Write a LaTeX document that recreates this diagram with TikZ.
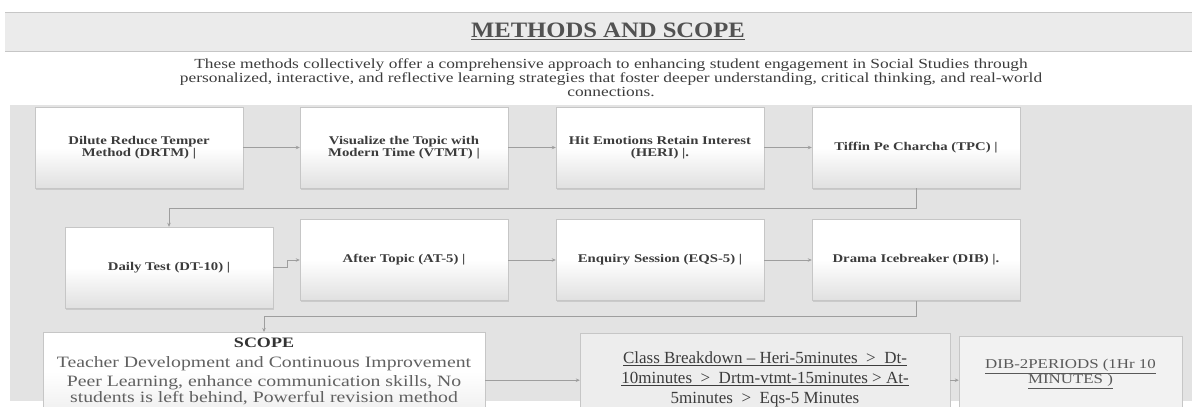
\documentclass[tikz,border=0pt]{standalone}
\usepackage{fontspec}
\setmainfont{Liberation Serif}
\newfontfamily\wideserif[FakeStretch=1.25]{Liberation Serif}
\newfontfamily\headserif[FakeStretch=1.12]{Liberation Serif}
\usetikzlibrary{arrows.meta,shadows}
\definecolor{bandc}{HTML}{EBEBEB}
\definecolor{panelc}{HTML}{E3E3E3}
\definecolor{linec}{HTML}{C6C6C6}
\definecolor{arrc}{HTML}{9E9E9E}
\definecolor{txtc}{HTML}{3C3C3C}
\definecolor{shadec}{HTML}{E0E0E0}
\tikzset{
  conn/.style={-{Stealth[length=4pt,width=3.5pt]},arrc,line width=0.7pt},
  mbox/.style={draw=linec,top color=white,bottom color=shadec,middle color=white,minimum width=208pt,minimum height=81pt,inner sep=2pt,align=center,text=txtc,font=\wideserif\bfseries\fontsize{11.8}{11.7}\selectfont,drop shadow={shadow xshift=0.8pt,shadow yshift=-1.5pt,opacity=0.25}},
  lowbox/.style={draw=linec,anchor=north,align=center,drop shadow={shadow xshift=0.8pt,shadow yshift=-1.5pt,opacity=0.2}}
}

\begin{document}
\begin{tikzpicture}[x=1pt,y=-1pt]
\useasboundingbox (0,0) rectangle (1192,407);
\clip (0,0) rectangle (1192,407);
% heading
\fill[bandc] (5,12) rectangle (1192,51);
\draw[linec] (5,12) -- (1192,12) (5,51) -- (1192,51);
\node[font=\headserif\bfseries\fontsize{22}{22}\selectfont,text=black!68] (title) at (608,31) {\underline{METHODS AND SCOPE}};
\node[align=center,font=\wideserif\fontsize{13.9}{14}\selectfont,text=txtc] (intro) at (611,78) {These methods collectively offer a comprehensive approach to enhancing student engagement in Social Studies through\\personalized, interactive, and reflective learning strategies that foster deeper understanding, critical thinking, and real-world\\connections.};
% panel
\fill[panelc] (10,105) rectangle (1192,401);
% methods
\node[mbox] (drtm) at (139,147.5) {Dilute Reduce Temper\\Method (DRTM) |};
\node[mbox] (vtmt) at (404,147.5) {Visualize the Topic with\\Modern Time (VTMT) |};
\node[mbox] (heri) at (660,147.5) {Hit Emotions Retain Interest\\(HERI) |.};
\node[mbox] (tpc) at (916,147.5) {Tiffin Pe Charcha (TPC) |};
\node[mbox] (dt) at (169,267.5) {Daily Test (DT-10) |};
\node[mbox] (at) at (404,260) {After Topic (AT-5) |};
\node[mbox] (eqs) at (660,260) {Enquiry Session (EQS-5) |};
\node[mbox] (dib) at (916,260) {Drama Icebreaker (DIB) |.};
% scope row
\node[lowbox,top color=white,bottom color=black!6,middle color=white,minimum width=442pt,inner ysep=6pt,text=black!62,font=\wideserif\fontsize{15.8}{16}\selectfont] (scope) at (264,332) {{\bfseries\fontsize{14.4}{16}\selectfont\color{black!80}SCOPE}\\[4pt]Teacher Development and Continuous Improvement\\[3pt]Peer Learning, enhance communication skills, No\\students is left behind, Powerful revision method};
\node[lowbox,fill=black!7,minimum width=370pt,minimum height=94pt,text=txtc,font=\fontsize{17}{20}\selectfont] (class) at (765,333) {\underline{Class Breakdown – Heri-5minutes ~>~ Dt-}\\\underline{10minutes ~>~ Drtm-vtmt-15minutes~> At-}\\\underline{5minutes ~>~ Eqs-5 Minutes}};
\node[lowbox,fill=black!5,minimum width=223pt,inner ysep=23pt,text=black!65,font=\wideserif\fontsize{13.5}{12.5}\selectfont] (dibp) at (1070.5,336) {\underline{DIB-2PERIODS (1Hr 10}\\\underline{MINUTES )}};
% connectors
\draw[conn] (drtm) -- (vtmt);
\draw[conn] (vtmt) -- (heri);
\draw[conn] (heri) -- (tpc);
\draw[conn] (tpc.south) -- ++(0,20) -| (dt.north);
\draw[conn] (dt.east) -- ++(14,0) |- (at.west);
\draw[conn] (at) -- (eqs);
\draw[conn] (eqs) -- (dib);
\draw[conn] (dib.south) -- ++(0,16) -| (scope.north);
\draw[conn] (scope.east |- class.west) -- (class.west);
\draw[conn] (class.east) -- (class.east -| dibp.west);
\end{tikzpicture}
\end{document}
